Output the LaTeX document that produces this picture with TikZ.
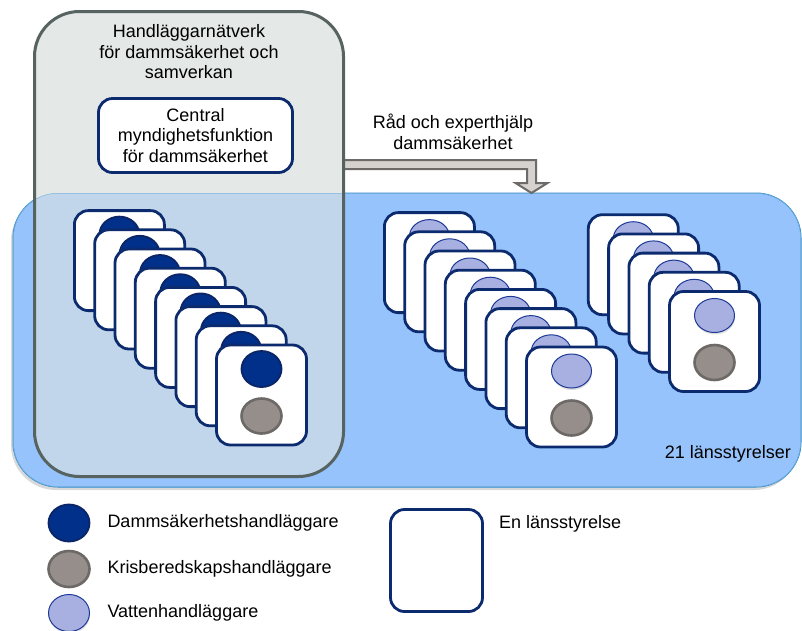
\documentclass[tikz,border=0pt]{standalone}
\usepackage{fontspec}
\setmainfont{Liberation Sans}
\usetikzlibrary{shapes.geometric,calc,shadows,positioning}
\definecolor{netfill}{HTML}{E4E8E7}
\definecolor{netedge}{HTML}{566360}
\definecolor{lanfill}{HTML}{96C3FB}
\definecolor{lanedge}{HTML}{2A87CB}
\definecolor{overlap}{HTML}{C1D6EA}
\definecolor{cardedge}{HTML}{0C2A6E}
\definecolor{dskfill}{HTML}{00308A}
\definecolor{dskedge}{HTML}{0B2566}
\definecolor{krisfill}{HTML}{958E8B}
\definecolor{krisedge}{HTML}{6D6966}
\definecolor{vatfill}{HTML}{A8B0E2}
\definecolor{vatedge}{HTML}{1E3A96}
\definecolor{arrowfill}{HTML}{D6D2CF}
\definecolor{arrowedge}{HTML}{6E6A67}

\begin{document}
\begin{tikzpicture}[x=1pt, y=-1pt,
  every node/.style={font=\fontsize{18}{20.5}\selectfont, inner sep=0pt, outer sep=0pt},
  card/.style={draw=cardedge, fill=white, line width=2.8pt, rounded corners=14pt, minimum width=90pt, minimum height=100pt},
  dsk/.style={ellipse, draw=dskedge, fill=dskfill, line width=1.8pt, minimum width=40pt, minimum height=36pt},
  kris/.style={ellipse, draw=krisedge, fill=krisfill, line width=2.6pt, minimum width=40pt, minimum height=35pt},
  vatten/.style={ellipse, draw=vatedge, fill=vatfill, line width=1pt, minimum width=40pt, minimum height=34pt,
    drop shadow={shadow xshift=0.5pt, shadow yshift=-2pt, opacity=0.25}}]
  \useasboundingbox (0,0) rectangle (802,630);

  % 21 lansstyrelser och handlaggarnatverk
  \node (lan) at (407,340) [draw=lanedge, fill=lanfill, line width=1pt, rounded corners=45pt, minimum width=788pt, minimum height=294pt,
    drop shadow={shadow xshift=-2pt, shadow yshift=-3pt, opacity=0.3}] {};
  \node (net) at (189,244) [fill=netfill, rounded corners=45pt, minimum width=309pt, minimum height=465pt] {};
  \begin{scope}
    \clip[rounded corners=45pt] (lan.south west) rectangle (lan.north east);
    \fill[overlap, rounded corners=45pt] (net.south west) rectangle (net.north east);
    \draw[lanedge!60, line width=1pt, rounded corners=45pt] (lan.south west) rectangle (lan.north east);
  \end{scope}

  \coordinate (bend) at (531.5,164.5);
  \coordinate (tip) at (bend |- lan.north);
  \draw[arrowedge, fill=arrowfill, line width=2pt]
    ($(net.east |- bend)+(0,-4.5)$) -- ($(bend)+(4.5,-4.5)$) -- ($(tip)+(4.5,-10)$) -- ($(tip)+(16,-10)$) -- (tip)
    -- ($(tip)+(-16,-10)$) -- ($(tip)+(-4.5,-10)$) -- ($(bend)+(-4.5,4.5)$) -- ($(net.east |- bend)+(0,4.5)$) -- cycle;
  \draw[netedge, line width=3pt, rounded corners=45pt] (net.south west) rectangle (net.north east);

  \node (nettitle) at (189,52) [align=center] {Handläggarnätverk\\för dammsäkerhet och\\samverkan};
  \node (central) at (195.5,135.5) [draw=cardedge, fill=white, line width=2.8pt, rounded corners=14pt,
    minimum width=194pt, minimum height=74pt, align=center] {Central\\myndighetsfunktion\\för dammsäkerhet};
  \node (rad) at (453,132) [align=center] {Råd och experthjälp\\dammsäkerhet};
  \node (antal) at (791,454) [anchor=east] {21 länsstyrelser};

  % kortstaplar
  \foreach \i in {0,...,7} {
    \node (dl\i) at ({119.4+20.3*\i},{260.6+19.2*\i}) [card] {};
    \node (dlv\i) at ($(dl\i)+(0,-26)$) [dsk] {};
  }
  \node (dlk) at ($(dl7)+(0,21)$) [kris] {};
  \foreach \i in {0,...,7} {
    \node (ml\i) at ({429.4+20.3*\i},{262.6+19.2*\i}) [card] {};
    \node (mlv\i) at ($(ml\i)+(0,-26)$) [vatten] {};
  }
  \node (mlk) at ($(ml7)+(0,21)$) [kris] {};
  \foreach \i in {0,...,4} {
    \node (rl\i) at ({633.3+20.3*\i},{264.7+19.2*\i}) [card] {};
    \node (rlv\i) at ($(rl\i)+(0,-26)$) [vatten] {};
  }
  \node (rlk) at ($(rl4)+(0,21)$) [kris] {};

  % teckenforklaring
  \node (legd) at (69,523) [dsk, minimum width=41pt, minimum height=37pt] {};
  \node (legk) at (69,569) [kris, minimum width=41pt, minimum height=36pt] {};
  \node (legv) at (69,613) [vatten, minimum width=41pt, minimum height=37pt] {};
  \node (legdtext) [right=18pt of legd] {Dammsäkerhetshandläggare};
  \node (legktext) [right=18pt of legk] {Krisberedskapshandläggare};
  \node (legvtext) [right=18pt of legv] {Vattenhandläggare};
  \node (legcard) at (436.5,560.5) [card, minimum width=92pt, minimum height=102pt] {};
  \node (legctext) at (499,524) [anchor=west] {En länsstyrelse};
\end{tikzpicture}
\end{document}
